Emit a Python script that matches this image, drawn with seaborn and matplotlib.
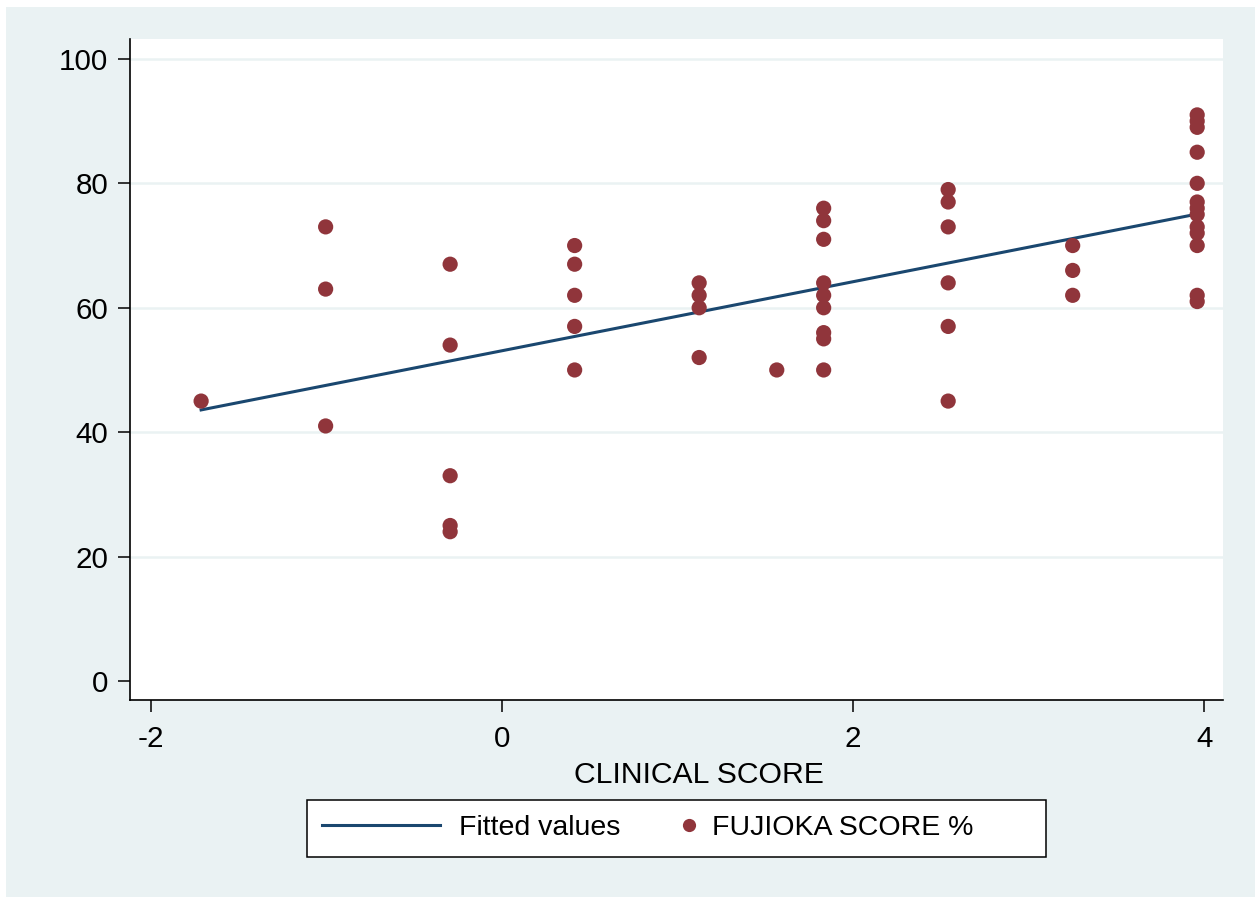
import numpy as np
import pandas as pd
import matplotlib
matplotlib.use("Agg")
import matplotlib.pyplot as plt
import seaborn as sns
from matplotlib.legend_handler import HandlerLine2D
from matplotlib.lines import Line2D
from matplotlib.patches import Rectangle

# ---- data ----
clinical_score = (
    [-1.713]
    + [-1.004] * 3
    + [-0.295] * 5
    + [0.414] * 5
    + [1.123] * 4
    + [1.565]
    + [1.832] * 9
    + [2.541] * 6
    + [3.250] * 3
    + [3.959] * 13
)
fujioka_score = (
    [45]
    + [73, 63, 41]
    + [67, 54, 33, 25, 24]
    + [70, 67, 62, 57, 50]
    + [64, 62, 60, 52]
    + [50]
    + [76, 74, 71, 64, 62, 60, 56, 55, 50]
    + [79, 77, 73, 64, 57, 45]
    + [70, 66, 62]
    + [91, 90, 89, 85, 80, 77, 76, 75, 73, 72, 70, 62, 61]
)
x_ticks = [-2, 0, 2, 4]
y_ticks = [0, 20, 40, 60, 80, 100]
x_label = "CLINICAL SCORE"
legend_labels = ["Fitted values", "FUJIOKA SCORE %\u2003\u2003"]

df = pd.DataFrame({"clinical": clinical_score, "fujioka": fujioka_score})

BG = "#eaf2f3"
MAROON = "#90353b"
NAVY = "#1a476f"

plt.rcParams["font.family"] = ["Liberation Sans", "DejaVu Sans"]

W, H = 1255, 897
fig = plt.figure(figsize=(W / 100, H / 100), dpi=100, facecolor="white")
fig.patches.append(Rectangle((6 / W, 0), 1 - 6 / W, 1 - 7 / H, transform=fig.transFigure,
                             facecolor=BG, edgecolor="none", zorder=-10))

ax = fig.add_axes([130 / W, 1 - 700 / H, 1093 / W, 661 / H])
ax.set_facecolor("white")

sns.regplot(data=df, x="clinical", y="fujioka", scatter=False, ci=None, truncate=True,
            color=NAVY, line_kws={"linewidth": 2.2, "zorder": 2}, ax=ax)
sns.scatterplot(data=df, x="clinical", y="fujioka", color=MAROON, s=120,
                edgecolor="none", linewidth=0, zorder=3, ax=ax, legend=False)

ax.set_xlim(-2.118, 4.106)
ax.set_ylim(-3.05, 103.2)
ax.set_xticks(x_ticks)
ax.set_yticks(y_ticks)
ax.set_xticklabels([str(v) for v in x_ticks])
ax.set_yticklabels([str(v) for v in y_ticks])

for s in ["top", "right"]:
    ax.spines[s].set_visible(False)
for s in ["left", "bottom"]:
    ax.spines[s].set_color("black")
    ax.spines[s].set_linewidth(1.2)

ax.tick_params(axis="both", direction="out", length=8.6, width=1.1, color="black",
               labelsize=21.3, labelcolor="black")
ax.tick_params(axis="y", pad=7.0)
ax.tick_params(axis="x", pad=9.3)

ax.grid(axis="y", color=BG, linewidth=1.8, zorder=0)
ax.set_axisbelow(True)
ax.yaxis.get_gridlines()[0].set_visible(False)

ax.set_ylabel("")
ax.set_xlabel(x_label, fontsize=21.7, color="black")
ax.xaxis.set_label_coords(0.5206, -0.0930)
ax.xaxis.label.set_va("top")


class MarkerRight(HandlerLine2D):
    """Place the single legend marker near the right end of its handle box."""
    def get_xdata(self, legend, xdescent, ydescent, width, height, fontsize):
        xm = -xdescent + width - 2.9
        return np.array([xm - 0.5, xm + 0.5]), np.array([xm])


h_line = Line2D([], [], color=NAVY, linewidth=2.2)
h_pt = Line2D([], [], linestyle="none", marker="o", markersize=9.5,
              markerfacecolor=MAROON, markeredgecolor="none")
leg = ax.legend([h_line, h_pt], legend_labels, ncol=2, loc="upper center",
                bbox_to_anchor=(0.5, -0.1513), borderaxespad=0, fontsize=20.5,
                frameon=True, fancybox=False, framealpha=1, edgecolor="black",
                handlelength=4.14, handletextpad=0.67, columnspacing=-1.58,
                borderpad=0.54, handler_map={h_pt: MarkerRight(numpoints=1)})
leg.get_frame().set_linewidth(1.1)
leg.get_frame().set_facecolor("white")

fig.savefig("out.png", dpi=100, facecolor="white")
